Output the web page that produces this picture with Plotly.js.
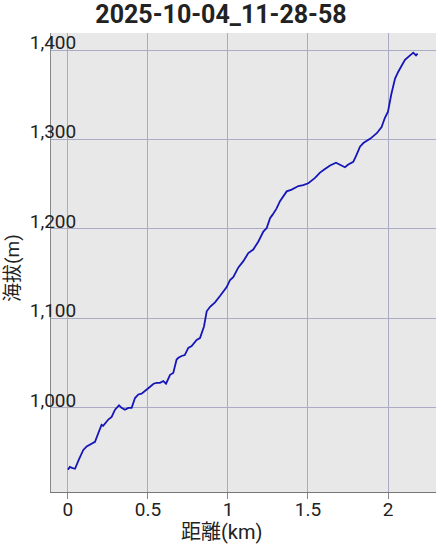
<!DOCTYPE html>
<html>
<head>
<meta charset="utf-8">
<script src="https://cdn.plot.ly/plotly-3.0.1.min.js"></script>
<style>html,body{margin:0;padding:0;background:#fff;}#chart{width:442px;height:545px;}</style>
</head>
<body>
<div id="chart"></div>
<script>
const chartTitle = "2025-10-04_11-28-58";
const xTitle = "距離(km)";
const yTitle = "海拔(m)";
const distanceKm = [0.000,0.012,0.025,0.044,0.070,0.096,0.117,0.148,0.169,0.190,0.210,0.220,0.252,0.273,0.294,0.319,0.335,0.356,0.377,0.398,0.419,0.440,0.460,0.502,0.535,0.554,0.575,0.596,0.613,0.638,0.658,0.679,0.690,0.710,0.730,0.752,0.773,0.804,0.825,0.850,0.867,0.888,0.919,0.950,0.992,1.013,1.033,1.065,1.096,1.127,1.158,1.190,1.221,1.242,1.263,1.279,1.304,1.325,1.346,1.367,1.398,1.440,1.470,1.502,1.544,1.575,1.606,1.638,1.675,1.710,1.731,1.752,1.783,1.804,1.825,1.846,1.890,1.930,1.960,1.980,2.000,2.020,2.044,2.065,2.090,2.106,2.138,2.158,2.175,2.185];
const elevationM = [931,934,933,932,943,953,957,960,962,972,981,980,987,990,998,1003,1000,998,1000,1000,1011,1015,1016,1022,1027,1028,1028,1030,1027,1037,1039,1054,1056,1058,1059,1067,1069,1076,1078,1091,1108,1113,1118,1125,1135,1143,1146,1157,1164,1173,1177,1186,1197,1201,1212,1216,1223,1231,1236,1242,1244,1248,1249,1251,1257,1263,1267,1271,1274,1271,1269,1272,1275,1283,1292,1296,1301,1307,1314,1324,1331,1350,1368,1376,1385,1389,1394,1397,1394,1396];
const xTickVals = [0,0.5,1,1.5,2];
const xTickText = ["0","0.5","1","1.5","2"];
const yTickVals = [1000,1100,1200,1300,1400];

const trace = {
  x: distanceKm, y: elevationM, type: 'scatter', mode: 'lines',
  line: {color: '#1616b8', width: 1.8}, hoverinfo: 'skip'
};
const fontFam = 'Roboto, "Noto Sans CJK JP", sans-serif';
const layout = {
  width: 442, height: 545,
  margin: {l: 51, r: 6, t: 33, b: 53},
  paper_bgcolor: '#ffffff', plot_bgcolor: '#e8e8e8',
  showlegend: false,
  title: {text: '<b>' + chartTitle + '</b>', x: 0.5, xref: 'container', xanchor: 'center',
          y: 1 - 14/545, yref: 'container', yanchor: 'middle',
          font: {family: fontFam, size: 25, color: '#222222'}},
  xaxis: {
    range: [-0.106, 2.3], tickvals: xTickVals, ticktext: xTickText,
    showgrid: true, gridcolor: '#ababc6', gridwidth: 1, zeroline: false,
    showline: true, linecolor: '#777777', linewidth: 1,
    ticks: 'outside', ticklen: 6, tickcolor: '#888888',
    ticklabelstandoff: -6,
    tickfont: {family: fontFam, size: 19, color: '#222222'}
  },
  yaxis: {
    range: [906, 1419], tickvals: yTickVals, tickformat: ',d',
    showgrid: true, gridcolor: '#ababc6', gridwidth: 1, zeroline: false,
    showline: true, linecolor: '#888888', linewidth: 1,
    ticks: '', ticklabelstandoff: -30, ticklabelshift: -8,
    tickfont: {family: fontFam, size: 19, color: '#222222'}
  },
  annotations: [
    {text: xTitle, xref: 'paper', yref: 'paper', x: (221-51)/385, y: (492-532)/459,
     xanchor: 'center', yanchor: 'middle', showarrow: false,
     font: {family: fontFam, size: 20, color: '#222222'}},
    {text: yTitle, xref: 'paper', yref: 'paper', x: (12-51)/385, y: (492-268)/459,
     xanchor: 'center', yanchor: 'middle', textangle: -90, showarrow: false,
     font: {family: fontFam, size: 19, color: '#222222'}}
  ]
};
Plotly.newPlot('chart', [trace], layout, {displayModeBar: false, staticPlot: true});
</script>
</body>
</html>
